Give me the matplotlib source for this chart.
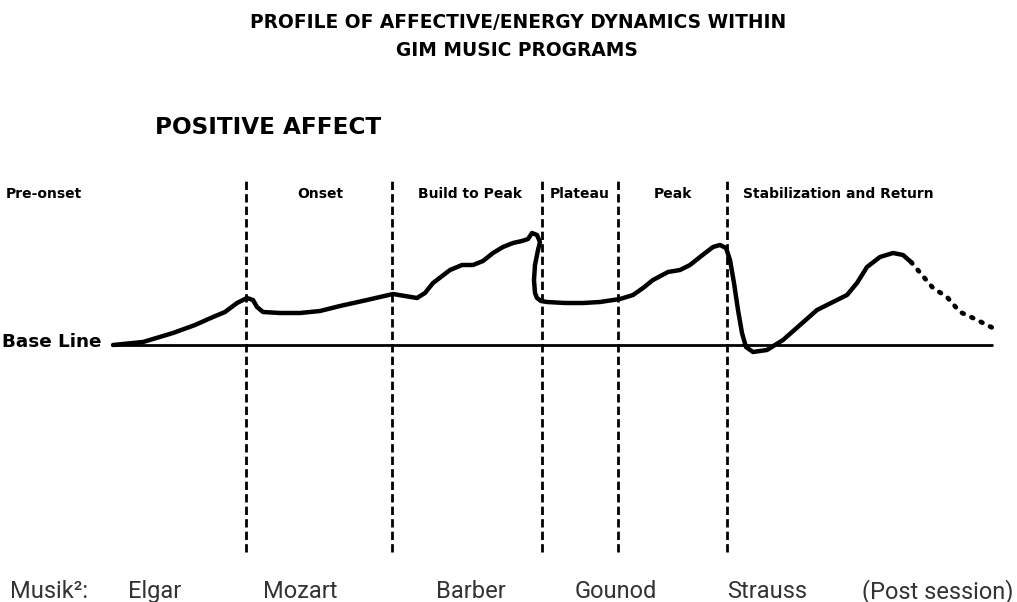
import matplotlib
matplotlib.use("Agg")
import matplotlib.pyplot as plt

# ---- data (x: session time units, y: affect level relative to base line) ----
curve_x = [113, 143, 173, 195, 213, 225, 237, 247, 253, 257, 263, 280, 300, 320, 340,
           367, 380, 393, 405, 417, 425, 433, 450, 462, 473, 483, 493, 503, 513, 522,
           528, 532, 537, 540, 538, 535, 534, 535, 537, 541, 547, 565, 583, 600, 620,
           633, 643, 653, 668, 680, 690, 700, 713, 720, 726, 730, 734, 738, 742, 746,
           753, 767, 783, 800, 817, 833, 847, 857, 867, 880, 893, 903, 911]
curve_y = [0, 3, 12, 20, 28, 33, 42, 47, 45, 38, 33, 32, 32, 34, 39,
           45, 48, 51, 49, 47, 52, 62, 75, 80, 80, 84, 92, 98, 102, 104,
           106, 112, 110, 103, 95, 80, 65, 52, 47, 44, 43, 42, 42, 43, 46,
           50, 57, 65, 73, 75, 80, 88, 98, 100, 97, 85, 62, 35, 12, -2,
           -7, -5, 5, 20, 35, 43, 50, 62, 78, 88, 92, 90, 83]
post_x = [911, 922, 933, 947, 960, 973, 987, 993]
post_y = [83, 70, 57, 48, 33, 27, 20, 17]

phase_bounds = [246, 392, 542, 618, 727]
phase_labels = ["Pre-onset", "Onset", "Build to Peak", "Plateau", "Peak",
                "Stabilization and Return"]
phase_label_x = [82, 320, 470, 580, 673, 838]
music = ["Musik\u00b2:", "Elgar", "Mozart", "Barber", "Gounod", "Strauss", "(Post session)"]
music_x = [10, 128, 263, 436, 575, 727, 862]

baseline_span = [113, 993]

Y0 = 345  # pixel row of the base line (used only for layout of text)

fig = plt.figure(figsize=(10.17, 6.02), dpi=100)
ax = fig.add_axes([0, 0, 1, 1])
ax.set_xlim(0, 1017)
ax.set_ylim(Y0 - 602, Y0)
ax.axis("off")

bold = dict(family="DejaVu Sans", fontweight="bold", color="black")

# title
ax.text(518, Y0 - 22, "PROFILE OF AFFECTIVE/ENERGY DYNAMICS WITHIN", ha="center",
        va="center", fontsize=13.4, **bold)
ax.text(517, Y0 - 50, "GIM MUSIC PROGRAMS", ha="center", va="center", fontsize=13.4, **bold)
ax.text(155, Y0 - 127, "POSITIVE AFFECT", ha="left", va="center", fontsize=16.7, **bold)

# phase dividers
ax.vlines(phase_bounds, Y0 - 552, Y0 - 177, colors="black", linewidth=2,
          linestyles=(0, (3, 1.5)))

# phase labels
for i, (lab, x) in enumerate(zip(phase_labels, phase_label_x)):
    ax.text(x, Y0 - 194, lab, ha="right" if i == 0 else "center", va="center",
            fontsize=10, **bold)

# base line
ax.plot(baseline_span, [0, 0], color="black", linewidth=2, solid_capstyle="butt")
ax.text(102, 3, "Base Line", ha="right", va="center", fontsize=13.2, **bold)

# curve
ax.plot(curve_x, curve_y, color="black", linewidth=3.2, solid_joinstyle="round",
        solid_capstyle="round")
ax.plot(post_x, post_y, color="black", linewidth=3.4, linestyle=(0, (0.4, 1.8)),
        dash_capstyle="round")

# music row
for lab, x in zip(music, music_x):
    ax.text(x, Y0 - 598, lab, ha="left", va="baseline", fontsize=17,
            family="Roboto", color="#333333")

fig.savefig("out.png", dpi=100)
